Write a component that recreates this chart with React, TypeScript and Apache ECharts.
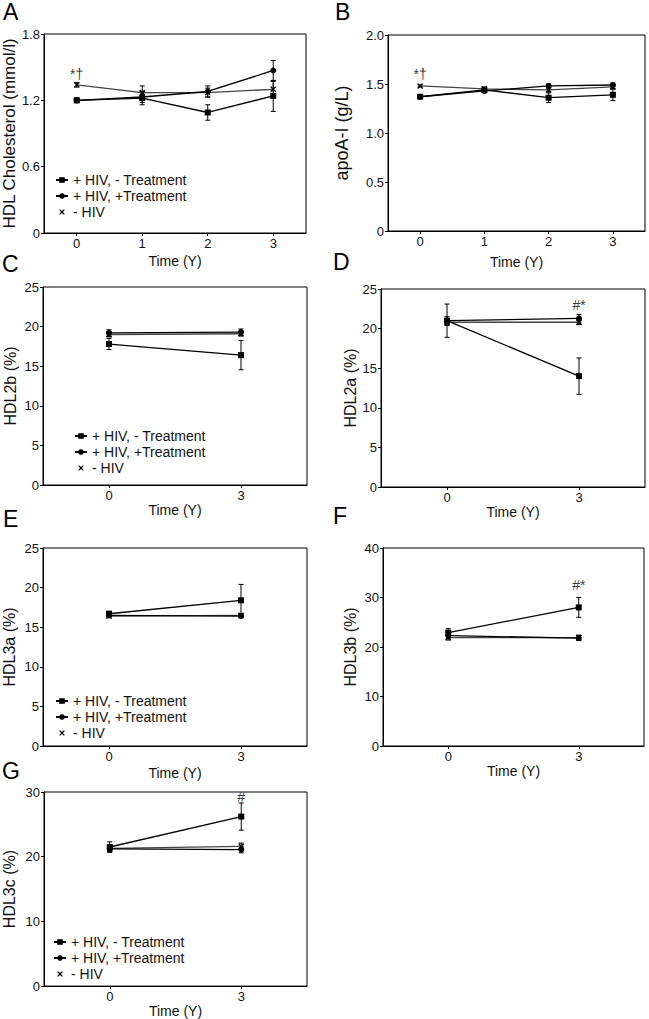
import React, { useEffect, useRef } from "react";
import * as echarts from "echarts";

const FONT = "Liberation Sans, Arial, sans-serif";
const LETTER_FONT = "Liberation Sans, Arial, sans-serif";

const SERIES_NAMES = ["+ HIV, - Treatment", "+ HIV, +Treatment", "- HIV"];
const X_TITLE = "Time (Y)";

// ---- Panel A: HDL cholesterol (mmol/l)
const yearsA = [0, 1, 2, 3];
const hdlNoTx = [1.2, 1.22, 1.09, 1.24];
const hdlNoTxSem = [0.02, 0.06, 0.07, 0.14];
const hdlTx = [1.2, 1.23, 1.28, 1.47];
const hdlTxSem = [0.02, 0.05, 0.05, 0.09];
const hdlNeg = [1.34, 1.27, 1.27, 1.3];
const hdlNegSem = [0.02, 0.06, 0.04, 0.07];
const ticksA = { max: 1.8, interval: 0.6 };

// ---- Panel B: apoA-I (g/L)
const yearsB = [0, 1, 2, 3];
const apoNoTx = [1.37, 1.44, 1.36, 1.39];
const apoNoTxSem = [0.01, 0.02, 0.05, 0.06];
const apoTx = [1.37, 1.43, 1.48, 1.49];
const apoTxSem = [0.01, 0.02, 0.02, 0.02];
const apoNeg = [1.48, 1.45, 1.44, 1.47];
const apoNegSem = [0.01, 0.02, 0.02, 0.02];
const ticksB = { max: 2.0, interval: 0.5 };

// ---- Panel C: HDL2b (%)
const yearsC = [0, 3];
const h2bNoTx = [17.8, 16.4];
const h2bNoTxSem = [0.7, 1.85];
const h2bTx = [19.2, 19.3];
const h2bTxSem = [0.4, 0.4];
const h2bNeg = [19.0, 19.1];
const h2bNegSem = [0.3, 0.3];
const ticksC = { max: 25, interval: 5 };

// ---- Panel D: HDL2a (%)
const yearsD = [0, 3];
const h2aNoTx = [21.0, 14.0];
const h2aNoTxSem = [2.1, 2.3];
const h2aTx = [21.0, 21.3];
const h2aTxSem = [0.5, 0.5];
const h2aNeg = [20.8, 20.8];
const h2aNegSem = [0.4, 0.3];
const ticksD = { max: 25, interval: 5 };

// ---- Panel E: HDL3a (%)
const yearsE = [0, 3];
const h3aNoTx = [16.7, 18.4];
const h3aNoTxSem = [0.3, 2.0];
const h3aTx = [16.5, 16.4];
const h3aTxSem = [0.2, 0.2];
const h3aNeg = [16.4, 16.5];
const h3aNegSem = [0.2, 0.2];
const ticksE = { max: 25, interval: 5 };

// ---- Panel F: HDL3b (%)
const yearsF = [0, 3];
const h3bNoTx = [22.9, 28.0];
const h3bNoTxSem = [0.8, 2.0];
const h3bTx = [22.3, 21.8];
const h3bTxSem = [0.6, 0.5];
const h3bNeg = [21.9, 21.9];
const h3bNegSem = [0.5, 0.5];
const ticksF = { max: 40, interval: 10 };

// ---- Panel G: HDL3c (%)
const yearsG = [0, 3];
const h3cNoTx = [21.5, 26.2];
const h3cNoTxSem = [0.8, 2.1];
const h3cTx = [21.2, 21.1];
const h3cTxSem = [0.5, 0.5];
const h3cNeg = [21.3, 21.6];
const h3cNegSem = [0.5, 0.5];
const ticksG = { max: 30, interval: 10 };

// ---- Significance annotations (data coordinates of the text)
const annotA = [{ x: 0, y: 1.44, text: "*†" }];
const annotB = [{ x: 0, y: 1.6, text: "*†" }];
const annotD = [{ x: 3, y: 23.0, text: "#*" }];
const annotF = [{ x: 3, y: 32.5, text: "#*" }];
const annotG = [{ x: 3, y: 29.2, text: "#" }];

const X_SYMBOL =
  "path://M0,1.6L1.6,0L5,3.4L8.4,0L10,1.6L6.6,5L10,8.4L8.4,10L5,6.6L1.6,10L0,8.4L3.4,5Z";
const SYMBOLS = ["rect", "circle", X_SYMBOL];
const SYMBOL_SIZES = [6, 6, 6];
const LINE_COLORS = ["#000", "#000", "#444"];

type Panel = {
  letter: string;
  years: number[];
  means: number[][];
  sems: number[][];
  yName: string;
  ticks: { max: number; interval: number };
  xRange: [number, number];
  annot: { x: number; y: number; text: string }[];
  grid: { left: number; top: number; width: number; height: number };
  xNameGap: number;
  yNameGap: number;
  yNameSize: number;
  letterPos: [number, number];
  legend?: { left: number; top: number };
};

const panels: Panel[] = [
  {
    letter: "A",
    years: yearsA,
    means: [hdlNoTx, hdlTx, hdlNeg],
    sems: [hdlNoTxSem, hdlTxSem, hdlNegSem],
    yName: "HDL Cholesterol (mmol/l)",
    ticks: ticksA,
    xRange: [-0.5, 3.5],
    annot: annotA,
    grid: { left: 43, top: 34, width: 263, height: 199 },
    xNameGap: 21,
    yNameGap: 25,
    yNameSize: 17,
    letterPos: [3, 0],
    legend: { left: 55, top: 173 },
  },
  {
    letter: "B",
    years: yearsB,
    means: [apoNoTx, apoTx, apoNeg],
    sems: [apoNoTxSem, apoTxSem, apoNegSem],
    yName: "apoA-I (g/L)",
    ticks: ticksB,
    xRange: [-0.5, 3.5],
    annot: annotB,
    grid: { left: 388, top: 35, width: 257, height: 196 },
    xNameGap: 24,
    yNameGap: 37,
    yNameSize: 18,
    letterPos: [335, 0],
  },
  {
    letter: "C",
    years: yearsC,
    means: [h2bNoTx, h2bTx, h2bNeg],
    sems: [h2bNoTxSem, h2bTxSem, h2bNegSem],
    yName: "HDL2b (%)",
    ticks: ticksC,
    xRange: [-1.5, 4.5],
    annot: [],
    grid: { left: 43, top: 287, width: 264, height: 198 },
    xNameGap: 16,
    yNameGap: 25,
    yNameSize: 16,
    letterPos: [2, 252],
    legend: { left: 74, top: 429 },
  },
  {
    letter: "D",
    years: yearsD,
    means: [h2aNoTx, h2aTx, h2aNeg],
    sems: [h2aNoTxSem, h2aTxSem, h2aNegSem],
    yName: "HDL2a (%)",
    ticks: ticksD,
    xRange: [-1.5, 4.5],
    annot: annotD,
    grid: { left: 381, top: 289, width: 264, height: 198 },
    xNameGap: 17,
    yNameGap: 23,
    yNameSize: 16,
    letterPos: [333, 250],
  },
  {
    letter: "E",
    years: yearsE,
    means: [h3aNoTx, h3aTx, h3aNeg],
    sems: [h3aNoTxSem, h3aTxSem, h3aNegSem],
    yName: "HDL3a (%)",
    ticks: ticksE,
    xRange: [-1.5, 4.5],
    annot: [],
    grid: { left: 43, top: 548, width: 264, height: 198 },
    xNameGap: 20,
    yNameGap: 26,
    yNameSize: 16,
    letterPos: [3, 507],
    legend: { left: 55, top: 694 },
  },
  {
    letter: "F",
    years: yearsF,
    means: [h3bNoTx, h3bTx, h3bNeg],
    sems: [h3bNoTxSem, h3bTxSem, h3bNegSem],
    yName: "HDL3b (%)",
    ticks: ticksF,
    xRange: [-1.5, 4.5],
    annot: annotF,
    grid: { left: 383, top: 548, width: 261, height: 198 },
    xNameGap: 18,
    yNameGap: 25,
    yNameSize: 16,
    letterPos: [333, 504],
  },
  {
    letter: "G",
    years: yearsG,
    means: [h3cNoTx, h3cTx, h3cNeg],
    sems: [h3cNoTxSem, h3cTxSem, h3cNegSem],
    yName: "HDL3c (%)",
    ticks: ticksG,
    xRange: [-1.5, 4.5],
    annot: annotG,
    grid: { left: 44, top: 792, width: 263, height: 196 },
    xNameGap: 17,
    yNameGap: 27,
    yNameSize: 16,
    letterPos: [2, 759],
    legend: { left: 53, top: 935 },
  },
];

function errorRenderItem(params: any, api: any) {
  const x = api.value(0);
  const lo = api.value(1);
  const hi = api.value(2);
  const pTop = api.coord([x, hi]);
  const pBot = api.coord([x, lo]);
  const w = 2.5;
  const st = { stroke: "#000", lineWidth: 1 };
  return {
    type: "group",
    children: [
      { type: "line", shape: { x1: pTop[0], y1: pTop[1], x2: pBot[0], y2: pBot[1] }, style: st },
      { type: "line", shape: { x1: pTop[0] - w, y1: pTop[1], x2: pTop[0] + w, y2: pTop[1] }, style: st },
      { type: "line", shape: { x1: pBot[0] - w, y1: pBot[1], x2: pBot[0] + w, y2: pBot[1] }, style: st },
    ],
  };
}

function buildOption() {
  const grid: any[] = [];
  const xAxis: any[] = [];
  const yAxis: any[] = [];
  const series: any[] = [];
  const legend: any[] = [];
  const graphic: any[] = [];

  panels.forEach((p, i) => {
    grid.push({
      ...p.grid,
      show: true,
      borderColor: "#000",
      borderWidth: 1,
      backgroundColor: "transparent",
      containLabel: false,
    });
    xAxis.push({
      gridIndex: i,
      type: "value",
      min: p.xRange[0],
      max: p.xRange[1],
      name: X_TITLE,
      nameLocation: "middle",
      nameGap: p.xNameGap,
      nameTextStyle: { fontFamily: FONT, fontSize: 14, color: "#111" },
      axisLine: { show: true, onZero: false, lineStyle: { color: "#000", width: 1 } },
      axisTick: { show: true, length: 3, customValues: p.years, lineStyle: { color: "#000" } },
      axisLabel: { customValues: p.years, fontFamily: FONT, fontSize: 13, color: "#111", margin: 4 },
      splitLine: { show: false },
    });
    yAxis.push({
      gridIndex: i,
      type: "value",
      min: 0,
      max: p.ticks.max,
      interval: p.ticks.interval,
      name: p.yName,
      nameLocation: "middle",
      nameGap: p.yNameGap,
      nameTextStyle: { fontFamily: FONT, fontSize: p.yNameSize, color: "#111" },
      axisLine: { show: true, onZero: false, lineStyle: { color: "#000", width: 1 } },
      axisTick: { show: true, length: 3, lineStyle: { color: "#000" } },
      axisLabel: {
        fontFamily: FONT,
        fontSize: 13,
        color: "#111",
        margin: 4,
        formatter: (v: number) =>
          v === 0 ? "0" : p.ticks.interval < 1 ? v.toFixed(1) : String(v),
      },
      splitLine: { show: false },
    });

    p.means.forEach((m, s) => {
      series.push({
        type: "custom",
        name: `err-${p.letter}-${s}`,
        xAxisIndex: i,
        yAxisIndex: i,
        renderItem: errorRenderItem,
        encode: { x: 0, y: [1, 2] },
        data: p.years.map((yr, k) => [yr, m[k] - p.sems[s][k], m[k] + p.sems[s][k]]),
        z: 2,
        silent: true,
      });
    });
    p.means.forEach((m, s) => {
      series.push({
        type: "line",
        name: SERIES_NAMES[s],
        xAxisIndex: i,
        yAxisIndex: i,
        data: p.years.map((yr, k) => [yr, m[k]]),
        symbol: SYMBOLS[s],
        symbolSize: SYMBOL_SIZES[s],
        showAllSymbol: true,
        lineStyle: { color: LINE_COLORS[s], width: 1.3 },
        itemStyle: { color: "#000" },
        z: 3 + (2 - s),
        silent: true,
      });
    });
    if (p.annot.length) {
      series.push({
        type: "scatter",
        name: `annot-${p.letter}`,
        xAxisIndex: i,
        yAxisIndex: i,
        data: p.annot.map((a) => ({ value: [a.x, a.y], name: a.text })),
        symbol: "circle",
        symbolSize: 0,
        itemStyle: { color: "#000" },
        label: {
          show: true,
          position: "inside",
          formatter: (d: any) => d.name,
          fontFamily: FONT,
          fontSize: 14,
          color: "#000",
          textBorderWidth: 0,
          textBorderColor: "transparent",
        },
        z: 6,
        silent: true,
      });
    }

    if (p.legend) {
      legend.push({
        left: p.legend.left,
        top: p.legend.top,
        orient: "vertical",
        padding: 0,
        itemWidth: 12,
        itemHeight: 7,
        itemGap: 2,
        selectedMode: false,
        textStyle: { fontFamily: FONT, fontSize: 14, color: "#111" },
        data: [
          { name: SERIES_NAMES[0] },
          { name: SERIES_NAMES[1] },
          { name: SERIES_NAMES[2], lineStyle: { opacity: 0 } },
        ],
      });
    }

    graphic.push({
      type: "text",
      x: p.letterPos[0],
      y: p.letterPos[1],
      style: {
        text: p.letter,
        font: `normal 23px ${LETTER_FONT}`,
        fill: "#000",
        align: "left",
        verticalAlign: "top",
      },
    });
  });

  return {
    animation: false,
    backgroundColor: "#fff",
    grid,
    xAxis,
    yAxis,
    series,
    legend,
    graphic,
  };
}

export default function App() {
  const ref = useRef<HTMLDivElement>(null);
  useEffect(() => {
    document.body.style.margin = "0";
    if (!ref.current) return;
    const chart = echarts.init(ref.current, undefined, { renderer: "svg" });
    chart.setOption(buildOption() as any);
    return () => chart.dispose();
  }, []);
  return (
    <div
      ref={ref}
      style={{ position: "absolute", left: 0, top: 0, width: 649, height: 1019, background: "#fff" }}
    />
  );
}
